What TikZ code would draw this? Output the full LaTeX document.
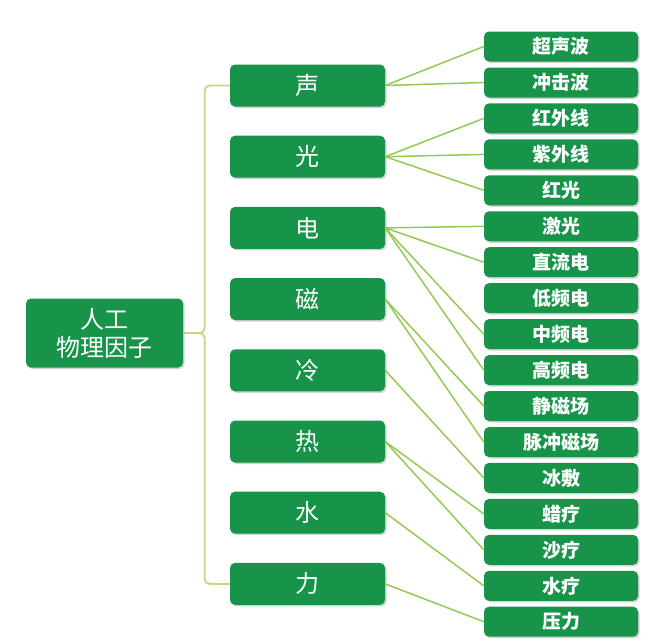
\documentclass[tikz,border=0pt]{standalone}
\usepackage{fontspec}
\setmainfont{Noto Sans CJK SC}
\usetikzlibrary{shadows}
\definecolor{boxgreen}{RGB}{24,148,74}
\definecolor{linegreen}{RGB}{148,202,84}
\definecolor{trunkgreen}{RGB}{195,215,135}
\begin{document}
\begin{tikzpicture}[x=1pt,y=-1pt,
   box/.style={fill=boxgreen,text=white,rounded corners=5pt,inner sep=0pt,
      drop shadow={opacity=0.35,shadow xshift=1.5pt,shadow yshift=-1.5pt}},
   rootbox/.style={box,minimum width=157pt,minimum height=69pt,align=center,font=\fontsize{24}{28}\selectfont},
   midbox/.style={box,minimum width=155pt,minimum height=42pt,font=\fontsize{24}{28}\selectfont},
   leafbox/.style={box,minimum width=154pt,minimum height=30pt,font=\fontsize{19}{22}\selectfont\bfseries},
   link/.style={linegreen,line width=1.5pt},
   trunk/.style={trunkgreen,line width=1.8pt,rounded corners=5pt}]
   \useasboundingbox (0,0) rectangle (669,641);
   % left
   \node[rootbox] (root) at (104.5,333) {人工\\物理因子};
   % middle
   \node[midbox] (sheng) at (307.5,85.5) {声};
   \node[midbox] (guang) at (307.5,156.7) {光};
   \node[midbox] (dian) at (307.5,227.9) {电};
   \node[midbox] (ci) at (307.5,299.1) {磁};
   \node[midbox] (leng) at (307.5,370.3) {冷};
   \node[midbox] (re) at (307.5,441.5) {热};
   \node[midbox] (shui) at (307.5,512.7) {水};
   \node[midbox] (li) at (307.5,583.9) {力};
   % right
   \node[leafbox] (chaosheng) at (561,46.5) {超声波};
   \node[leafbox] (chongji) at (561,82.5) {冲击波};
   \node[leafbox] (hongwai) at (561,118.4) {红外线};
   \node[leafbox] (ziwai) at (561,154.4) {紫外线};
   \node[leafbox] (hongguang) at (561,190.3) {红光};
   \node[leafbox] (jiguang) at (561,226.3) {激光};
   \node[leafbox] (zhiliu) at (561,262.2) {直流电};
   \node[leafbox] (dipin) at (561,298.2) {低频电};
   \node[leafbox] (zhongpin) at (561,334.1) {中频电};
   \node[leafbox] (gaopin) at (561,370.1) {高频电};
   \node[leafbox] (jingci) at (561,406) {静磁场};
   \node[leafbox] (maichong) at (561,442) {脉冲磁场};
   \node[leafbox] (bingfu) at (561,477.9) {冰敷};
   \node[leafbox] (la) at (561,513.9) {蜡疗};
   \node[leafbox] (sha) at (561,549.8) {沙疗};
   \node[leafbox] (shuiliao) at (561,585.8) {水疗};
   \node[leafbox] (yali) at (561,621.7) {压力};
   % trunk
   \draw[trunk] (root.east) -- ++(21.5,0) |- (sheng.west);
   \draw[trunk] (root.east) -- ++(21.5,0) |- (li.west);
   % links
   \draw[link] (sheng.east) -- (chaosheng.west);
   \draw[link] (sheng.east) -- (chongji.west);
   \draw[link] (guang.east) -- (hongwai.west);
   \draw[link] (guang.east) -- (ziwai.west);
   \draw[link] (guang.east) -- (hongguang.west);
   \draw[link] (dian.east) -- (jiguang.west);
   \draw[link] (dian.east) -- (zhiliu.west);
   \draw[link] (dian.east) -- (zhongpin.west);
   \draw[link] (dian.east) -- (gaopin.west);
   \draw[link] (ci.east) -- (jingci.west);
   \draw[link] (ci.east) -- (maichong.west);
   \draw[link] (leng.east) -- (bingfu.west);
   \draw[link] (re.east) -- (la.west);
   \draw[link] (re.east) -- (sha.west);
   \draw[link] (shui.east) -- (shuiliao.west);
   \draw[link] (li.east) -- (yali.west);
\end{tikzpicture}
\end{document}
